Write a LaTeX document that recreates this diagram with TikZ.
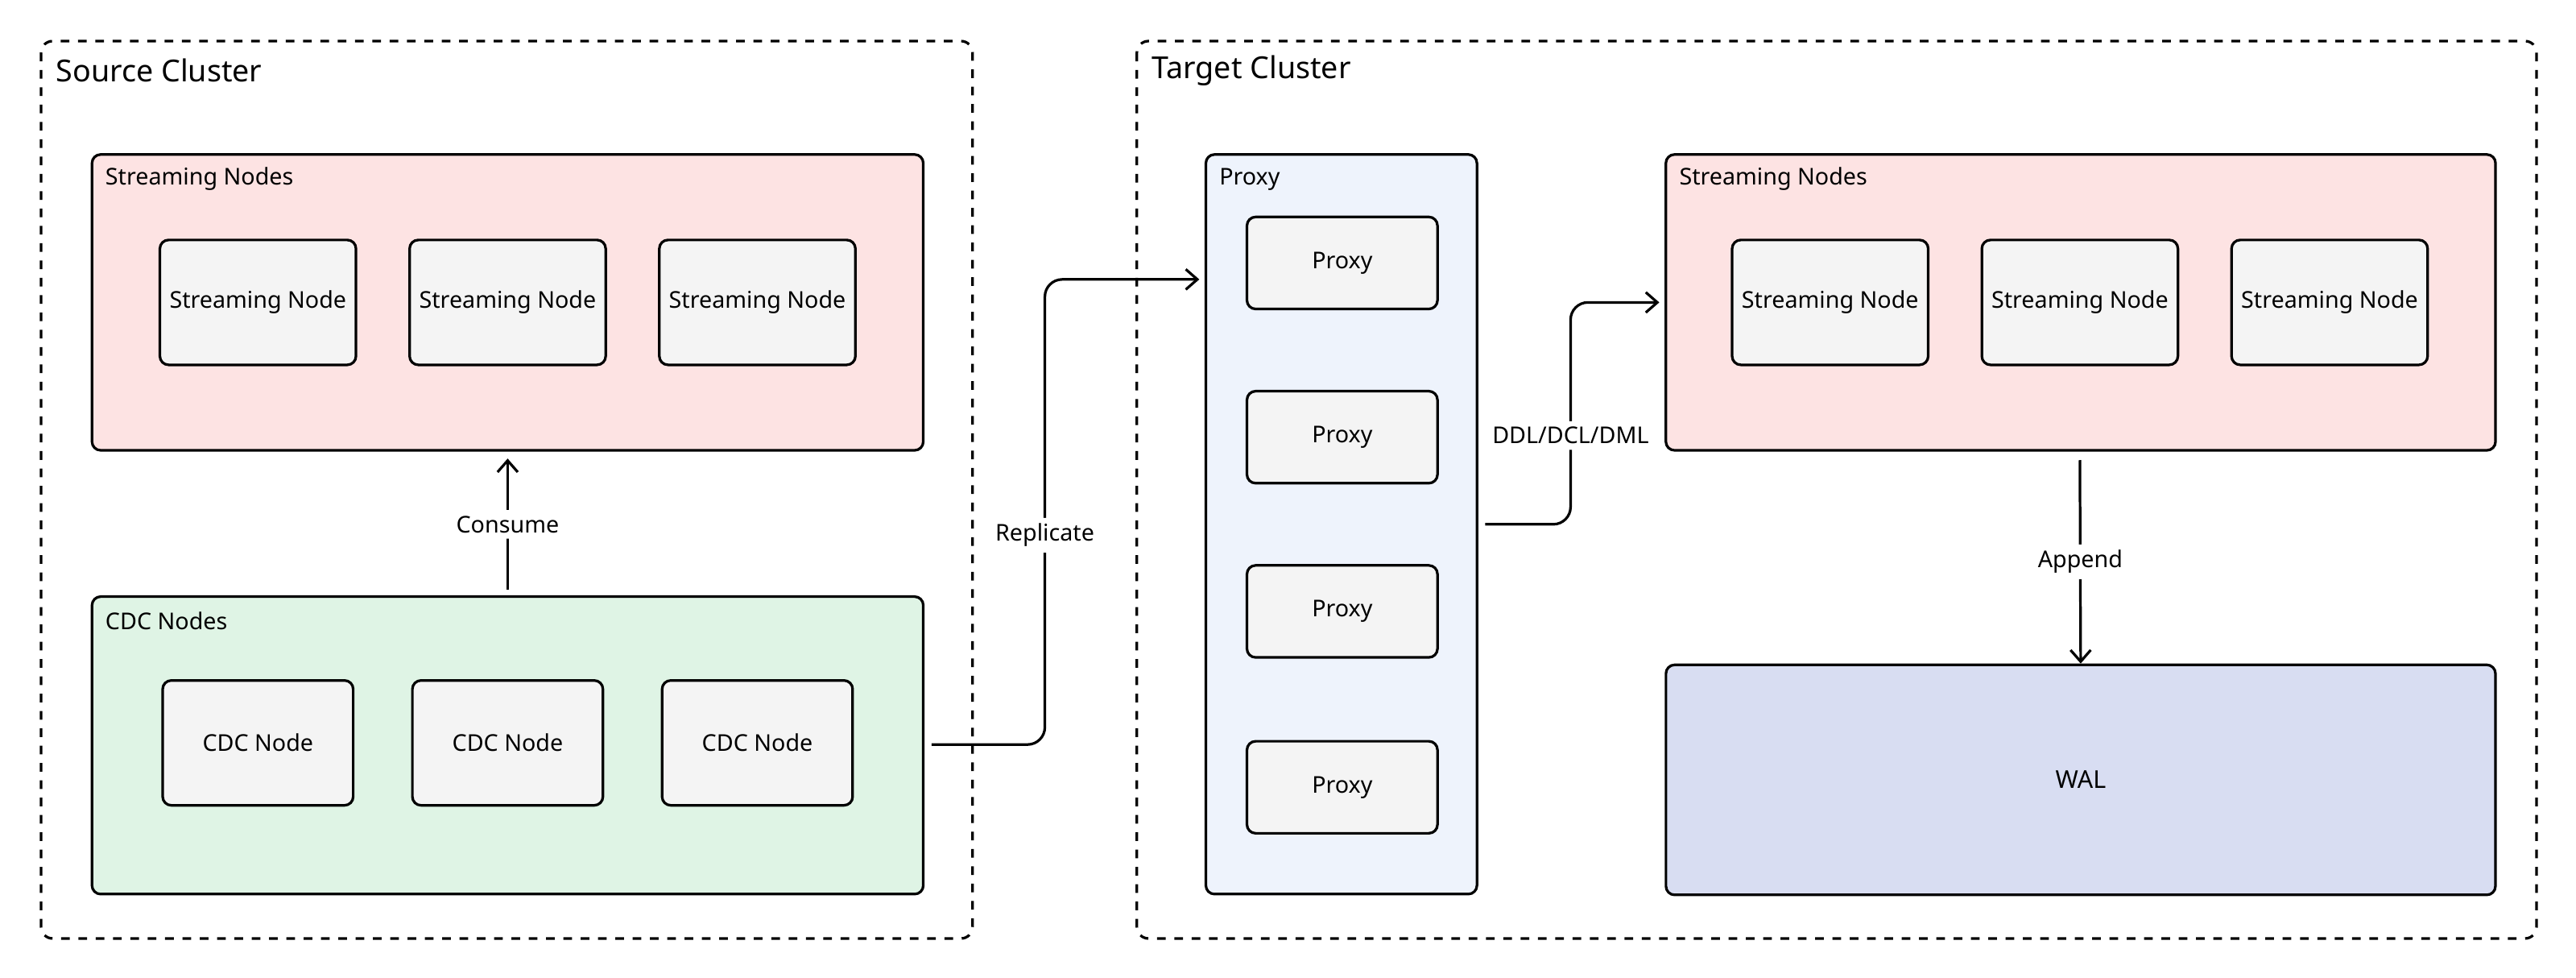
\documentclass[tikz,border=0pt]{standalone}
\usepackage{fontspec}
\setmainfont{Noto Sans}
\usetikzlibrary{arrows.meta}
\definecolor{pinkf}{HTML}{FDE3E3}
\definecolor{greenf}{HTML}{DFF4E5}
\definecolor{proxyf}{HTML}{EEF3FC}
\definecolor{walf}{HTML}{D8DDF2}
\definecolor{boxf}{HTML}{F4F4F4}
\begin{document}
\begin{tikzpicture}[x=0.02cm,y=-0.02cm,
 cluster/.style={draw,dashed,line width=0.9pt,rounded corners=4pt},
 grp/.style={draw,line width=0.9pt,rounded corners=3pt},
 box/.style={draw,line width=0.9pt,rounded corners=3pt,fill=boxf,minimum width=2.32cm,minimum height=1.52cm,font=\fontsize{8}{10}\selectfont},
 pbox/.style={box,minimum height=1.12cm},
 title/.style={anchor=west,font=\fontsize{10.5}{12}\bfseries\selectfont},
 glabel/.style={anchor=west,font=\fontsize{8}{10}\bfseries\selectfont},
 lab/.style={font=\fontsize{8}{10}\selectfont,fill=white,inner sep=2pt},
 arr/.style={line width=0.9pt,-{Straight Barb[length=4pt,width=7pt]},rounded corners=6pt}]
\useasboundingbox (0,0) rectangle (1568,594.6);
% clusters
\draw[cluster] (25,25) rectangle (592,571);
\node[title] at (28,43) {Source Cluster};
\draw[cluster] (692,25) rectangle (1544,571);
\node[title] at (695,43) {Target Cluster};
% source streaming
\draw[grp,fill=pinkf] (56,94) rectangle (562,274);
\node[glabel] at (58,109) {Streaming Nodes};
\node[box] (s1) at (157,184) {Streaming Node};
\node[box] (s2) at (309,184) {Streaming Node};
\node[box] (s3) at (461,184) {Streaming Node};
\coordinate (ssb) at (309,279);
% CDC
\draw[grp,fill=greenf] (56,363) rectangle (562,544);
\node[glabel] at (58,378) {CDC Nodes};
\node[box] (c1) at (157,452) {CDC Node};
\node[box] (c2) at (309,452) {CDC Node};
\node[box] (c3) at (461,452) {CDC Node};
\coordinate (cdct) at (309,359);
\coordinate (cdcr) at (567,453);
% proxy
\draw[grp,fill=proxyf] (734,94) rectangle (899,544);
\node[glabel] at (736,109) {Proxy};
\node[pbox] (p1) at (817,160) {Proxy};
\node[pbox] (p2) at (817,266) {Proxy};
\node[pbox] (p3) at (817,372) {Proxy};
\node[pbox] (p4) at (817,479) {Proxy};
\coordinate (pl) at (730,170);
\coordinate (pr) at (904,319);
% target streaming
\draw[grp,fill=pinkf] (1014,94) rectangle (1519,274);
\node[glabel] at (1016,109) {Streaming Nodes};
\node[box] (t1) at (1114,184) {Streaming Node};
\node[box] (t2) at (1266,184) {Streaming Node};
\node[box] (t3) at (1418,184) {Streaming Node};
\coordinate (tl) at (1010,184);
\coordinate (tb) at (1266,280);
% WAL
\node[grp,fill=walf,minimum width=10.1cm,minimum height=2.8cm,font=\fontsize{8.5}{10}\bfseries\selectfont] (wal) at (1266.5,474.5) {WAL};
% arrows
\draw[arr] (cdct) -- node[lab]{Consume} (ssb);
\draw[arr] (cdcr) -- (636,453) -- node[lab,pos=0.45]{Replicate} (636,170) -- (pl);
\draw[arr] (pr) -- (956,319) -- node[lab,pos=0.4]{DDL/DCL/DML} (956,184) -- (tl);
\draw[arr] (tb) -- node[lab]{Append} (wal.north);
\end{tikzpicture}
\end{document}
